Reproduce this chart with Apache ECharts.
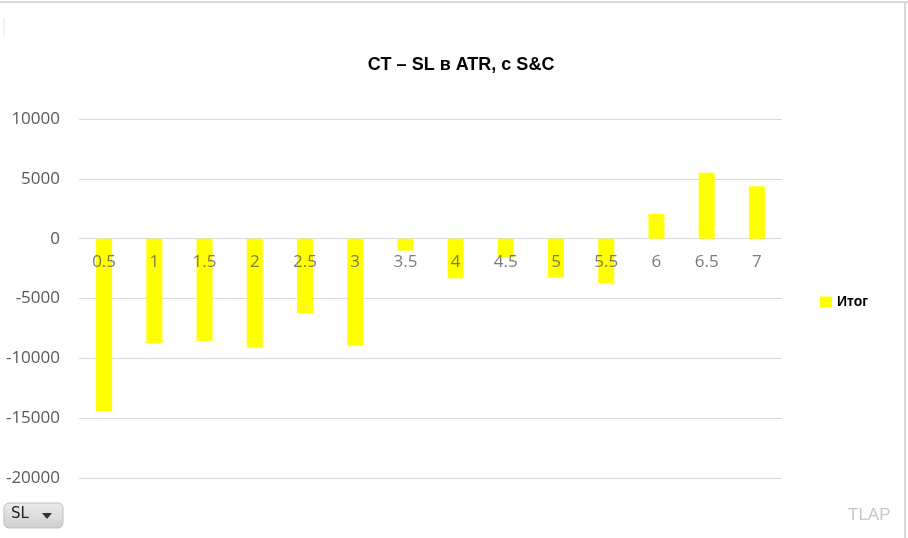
<!DOCTYPE html>
<html><head><meta charset="utf-8">
<script src="https://cdn.jsdelivr.net/npm/echarts@6/dist/echarts.min.js"></script>
<style>html,body{margin:0;padding:0;background:#fff}#c{width:908px;height:538px}</style>
</head><body><div id="c"></div>
<script>
const categories = ['0.5','1','1.5','2','2.5','3','3.5','4','4.5','5','5.5','6','6.5','7'];
const values = [-14400,-8730,-8560,-9090,-6220,-8950,-1000,-3320,-1560,-3240,-3740,2070,5500,4380];
const seriesName = 'Итог';
const titleText = 'CT – SL в ATR, с S&C';

const chart = echarts.init(document.getElementById('c'), null, {renderer:'canvas'});
chart.setOption({
  animation:false,
  backgroundColor:'#fff',
  title:{text:titleText,left:456,top:51,textAlign:'center',
    textStyle:{fontFamily:'Liberation Sans',fontWeight:'bold',fontSize:18,color:'#000'}},
  legend:{data:[seriesName],left:815,top:290,itemWidth:12,itemHeight:11,itemGap:10,
    icon:'rect',textStyle:{fontFamily:'Liberation Sans',fontWeight:'bold',fontSize:14,color:'#000'}},
  grid:{left:79,right:126,top:119,bottom:60,containLabel:false},
  xAxis:{type:'category',data:categories,
    axisLine:{show:false},axisTick:{show:false},axisLabel:{show:false}},
  yAxis:{type:'value',min:-20000,max:10000,interval:5000,
    axisLine:{show:false},axisTick:{show:false},
    splitLine:{lineStyle:{color:'#d9d9d9',width:1}},
    axisLabel:{margin:19,fontFamily:'Open Sans',fontSize:17,color:'#595959',
      formatter:function(v){return String(v);}}},
  series:[
    {name:seriesName,type:'bar',data:values,barWidth:16,z:1,
      itemStyle:{color:'#FFFF00'}},
    {name:'_labels',type:'scatter',data:categories.map(function(c){return [c,0];}),
      symbolSize:2,itemStyle:{color:'rgba(0,0,0,0)'},z:10,silent:true,
      label:{show:true,position:'bottom',distance:14,
        fontFamily:'Open Sans',fontSize:17,color:'#595959',
        formatter:function(p){return p.value[0];}}}
  ],
  graphic:[
    {type:'line',shape:{x1:0,y1:2,x2:908,y2:2},style:{stroke:'#d9d9d9',lineWidth:2}},
    {type:'line',shape:{x1:905,y1:2,x2:905,y2:538},style:{stroke:'#d9d9d9',lineWidth:2}},
    {type:'line',shape:{x1:4,y1:18,x2:4,y2:36},style:{stroke:'#e6e6e6',lineWidth:1}},
    {type:'rect',shape:{x:4,y:503,width:59,height:25,r:5},
      style:{fill:new echarts.graphic.LinearGradient(0,0,0,1,[{offset:0,color:'#ececec'},{offset:1,color:'#cfcfcf'}]),stroke:'#bdbdbd',lineWidth:1}},
    {type:'text',left:11,top:507,style:{text:'SL',fontFamily:'DejaVu Sans',fontSize:15,fill:'#222'}},
    {type:'polygon',shape:{points:[[42,513],[52,513],[47,519]]},style:{fill:'#333'}},
    {type:'text',left:848,top:507,style:{text:'TLAP',fontFamily:'Liberation Sans',fontSize:17,fill:'#c8c8c8'}}
  ]
});
</script></body></html>
